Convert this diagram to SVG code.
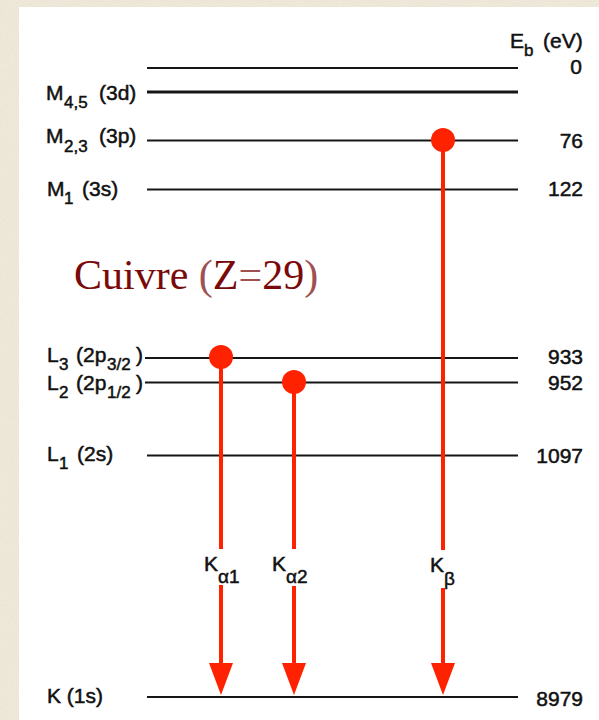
<svg xmlns="http://www.w3.org/2000/svg" width="599" height="720" viewBox="0 0 599 720">
  <defs>
    <filter id="paper" x="0" y="0" width="100%" height="100%">
      <feTurbulence type="fractalNoise" baseFrequency="0.9" numOctaves="2" seed="3" result="n"/>
      <feColorMatrix in="n" type="matrix" values="0 0 0 0 0.6  0 0 0 0 0.54  0 0 0 0 0.42  0 0 0 0.3 0" result="c"/>
      <feComposite in="c" in2="SourceGraphic" operator="in"/>
    </filter>
    <style>
      .lvl { stroke: #161616; stroke-width: 2; fill: none; }
      .red { stroke: #ff2200; stroke-width: 4; fill: none; }
      .redf { fill: #ff2200; }
      .t { font-family: "Liberation Sans", Arial, sans-serif; font-size: 21px; fill: #111; stroke: #111; stroke-width: 0.5; }
      .s { font-size: 17px; }
      .n { font-family: "Liberation Sans", Arial, sans-serif; font-size: 21px; fill: #111; stroke: #111; stroke-width: 0.5; text-anchor: end; }
      .title { font-family: "Liberation Serif", "Times New Roman", serif; font-size: 42px; fill: #7a0a0a; }
      .lt { fill: #a05050; }
    </style>
  </defs>

  <!-- background -->
  <rect x="0" y="0" width="599" height="720" fill="#f3eee0"/>
  <rect x="0" y="0" width="599" height="720" fill="#f3eee0" filter="url(#paper)"/>
  <rect x="19" y="7" width="580" height="713" fill="#ffffff"/>

  <!-- energy levels -->
  <g id="levels">
    <g id="lvl-vac"><line class="lvl" x1="147" y1="68" x2="518" y2="68"/></g>
    <g id="lvl-M45"><line class="lvl" x1="147" y1="92" x2="518" y2="92" style="stroke-width:3"/>
      <text class="t" x="46" y="100">M<tspan class="s" x="64" y="108">4,5</tspan><tspan x="99" y="100">(3d)</tspan></text></g>
    <g id="lvl-M23"><line class="lvl" x1="147" y1="140.5" x2="518" y2="140.5"/>
      <text class="t" x="46" y="143">M<tspan class="s" x="64" y="152">2,3</tspan><tspan x="99" y="143">(3p)</tspan></text></g>
    <g id="lvl-M1"><line class="lvl" x1="147" y1="189.5" x2="518" y2="189.5"/>
      <text class="t" x="47" y="196">M<tspan class="s" x="64" y="204">1</tspan><tspan x="82" y="196">(3s)</tspan></text></g>
    <g id="lvl-L3"><line class="lvl" x1="145" y1="358" x2="518" y2="358"/>
      <text class="t" x="47" y="362">L<tspan class="s" x="59" y="370">3</tspan><tspan x="76" y="362">(2p</tspan><tspan class="s" x="107" y="370">3/2</tspan><tspan x="136" y="362">)</tspan></text></g>
    <g id="lvl-L2"><line class="lvl" x1="145" y1="382.5" x2="518" y2="382.5"/>
      <text class="t" x="47" y="390">L<tspan class="s" x="59" y="398">2</tspan><tspan x="76" y="390">(2p</tspan><tspan class="s" x="107" y="398">1/2</tspan><tspan x="136" y="390">)</tspan></text></g>
    <g id="lvl-L1"><line class="lvl" x1="147" y1="455.5" x2="518" y2="455.5"/>
      <text class="t" x="47" y="461">L<tspan class="s" x="59" y="469">1</tspan><tspan x="77" y="461">(2s)</tspan></text></g>
    <g id="lvl-K"><line class="lvl" x1="147" y1="697" x2="518" y2="697"/>
      <text class="t" x="47" y="703">K (1s)</text></g>
  </g>

  <!-- binding energies -->
  <g id="energies">
    <text class="t" x="510" y="48">E<tspan class="s" x="524" y="56">b</tspan><tspan x="543" y="48">(eV)</tspan></text>
    <text class="n" x="582" y="74">0</text>
    <text class="n" x="583" y="148">76</text>
    <text class="n" x="583" y="196">122</text>
    <text class="n" x="583" y="364">933</text>
    <text class="n" x="583" y="390">952</text>
    <text class="n" x="583" y="463">1097</text>
    <text class="n" x="583" y="706">8979</text>
  </g>

  <!-- title -->
  <text class="title" x="74" y="289">Cuivre <tspan class="lt">(</tspan>Z<tspan class="lt">=</tspan>29<tspan class="lt">)</tspan></text>

  <!-- transitions -->
  <g id="connectors">
    <g id="Ka1">
      <circle class="redf" cx="221" cy="357" r="12"/>
      <line class="red" x1="221" y1="357" x2="221" y2="549"/>
      <line class="red" x1="221" y1="585" x2="221" y2="665"/>
      <polygon class="redf" points="209,663 233,663 221,695"/>
      <text class="t" x="204" y="571">K<tspan class="s" x="218" y="583" style="font-size:19px">α1</tspan></text>
    </g>
    <g id="Ka2">
      <circle class="redf" cx="294" cy="382" r="12"/>
      <line class="red" x1="294" y1="382" x2="294" y2="549"/>
      <line class="red" x1="294" y1="586" x2="294" y2="665"/>
      <polygon class="redf" points="282,663 306,663 294,695"/>
      <text class="t" x="272" y="571">K<tspan class="s" x="286" y="583" style="font-size:19px">α2</tspan></text>
    </g>
    <g id="Kb">
      <circle class="redf" cx="443" cy="140" r="12"/>
      <line class="red" x1="443" y1="140" x2="443" y2="550"/>
      <line class="red" x1="443" y1="588" x2="443" y2="665"/>
      <polygon class="redf" points="431,663 455,663 443,695"/>
      <text class="t" x="430" y="572">K<tspan class="s" x="444" y="585" style="font-size:19px">β</tspan></text>
    </g>
  </g>
</svg>
